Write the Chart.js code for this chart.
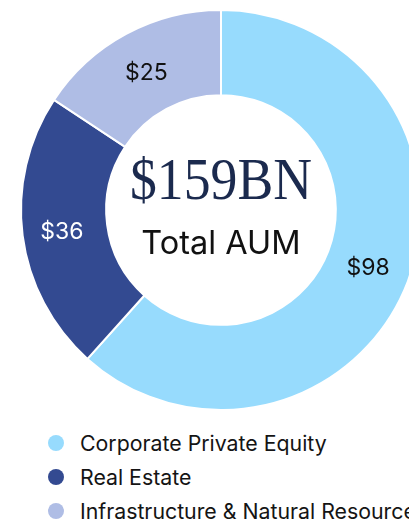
<!DOCTYPE html>
<html>
<head>
<meta charset="utf-8">
<script src="https://cdn.jsdelivr.net/npm/chart.js@4.4.0/dist/chart.umd.min.js"></script>
<style>
  html, body { margin: 0; padding: 0; background: #fff; overflow: hidden; }
  body { width: 409px; height: 519px; position: relative; font-family: Inter, sans-serif; }
  #wrap { position: absolute; left: 0; top: 0; width: 442px; height: 420px; }
  #legend { position: absolute; left: 48px; top: 426px; list-style: none; margin: 0; padding: 0; white-space: nowrap; }
  #legend li { height: 34px; line-height: 34px; font-size: 21.3px; color: #141414; display: flex; align-items: center; }
  #legend span.dot { width: 16px; height: 16px; border-radius: 50%; margin-right: 16px; display: inline-block; flex: none; }
</style>
</head>
<body>
<div id="wrap"><canvas id="donut"></canvas></div>
<ul id="legend"></ul>
<script>
// data
const labels = ["Corporate Private Equity", "Real Estate", "Infrastructure & Natural Resources"];
const aum = [98, 36, 25];
const colors = ["#97dbfd", "#334a91", "#afbde5"];
const labelColors = ["#111111", "#ffffff", "#111111"];
const totalText = "$159BN";
const subText = "Total AUM";

// value labels on each slice + center text
const sliceLabels = {
  id: 'sliceLabels',
  afterDatasetsDraw(chart) {
    const ctx = chart.ctx;
    const meta = chart.getDatasetMeta(0);
    ctx.save();
    ctx.font = '23px Inter';
    ctx.textAlign = 'center';
    ctx.textBaseline = 'middle';
    meta.data.forEach((arc, i) => {
      const p = arc.tooltipPosition();
      ctx.fillStyle = labelColors[i];
      ctx.fillText('$' + aum[i], p.x - (i === 1 ? 3 : 0), p.y + 2);
    });

    const cx = meta.data[0].x, cy = meta.data[0].y;
    ctx.textBaseline = 'alphabetic';
    ctx.fillStyle = '#1b2a4e';
    ctx.font = '60px "Liberation Serif", serif';
    ctx.fillText(totalText, cx, cy - 11, 182);
    ctx.fillStyle = '#111111';
    ctx.font = '32.5px Inter';
    ctx.fillText(subText, cx, cy + 44);
    ctx.restore();
  }
};

new Chart(document.getElementById('donut'), {
  type: 'doughnut',
  data: {
    labels: labels,
    datasets: [{
      data: aum,
      backgroundColor: colors,
      borderColor: '#ffffff',
      borderWidth: 2,
      hoverOffset: 0
    }]
  },
  options: {
    responsive: true,
    maintainAspectRatio: false,
    animation: false,
    radius: 200,
    cutout: 120,
    layout: { padding: 0 },
    plugins: {
      legend: { display: false },
      tooltip: { enabled: false }
    }
  },
  plugins: [sliceLabels]
});

// legend
const ul = document.getElementById('legend');
labels.forEach((l, i) => {
  const li = document.createElement('li');
  li.innerHTML = '<span class="dot" style="background:' + colors[i] + '"></span>' + l;
  ul.appendChild(li);
});
</script>
</body>
</html>
